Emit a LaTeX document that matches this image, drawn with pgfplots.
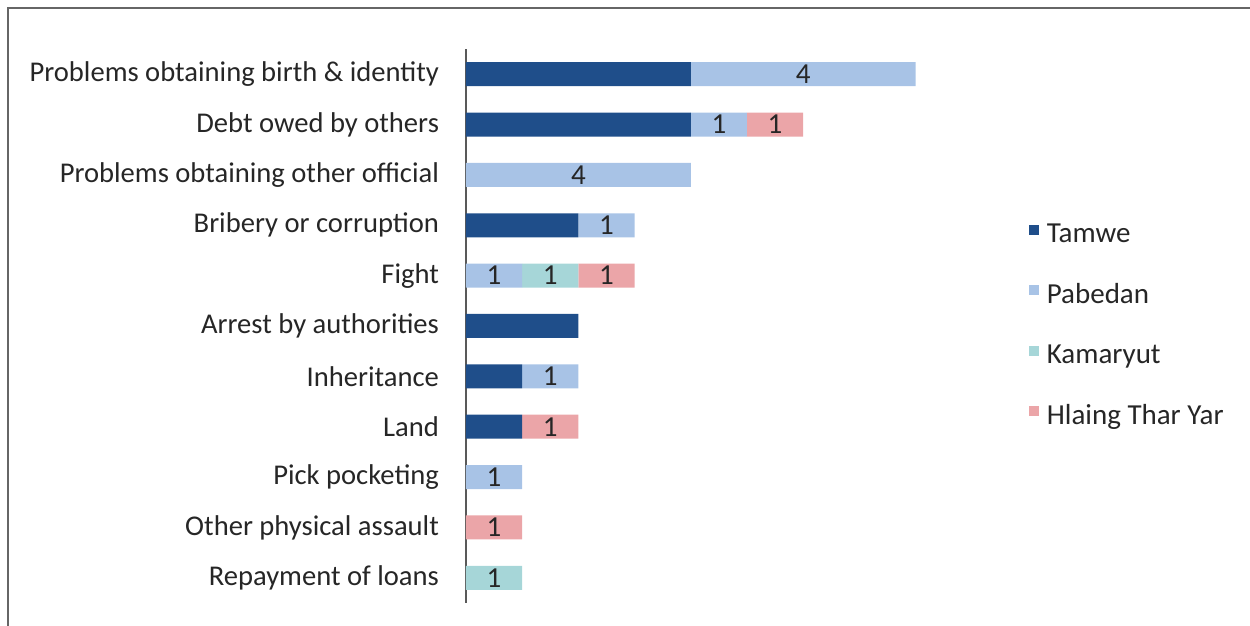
\documentclass[border=0pt]{standalone}
\usepackage{pgfplots}
\pgfplotsset{compat=1.18}
\usepackage{pgfplotstable}
\usepackage{fontspec}
\setmainfont{Carlito}
\definecolor{cTam}{HTML}{1F4E8A}
\definecolor{cPab}{HTML}{A8C3E6}
\definecolor{cKam}{HTML}{A6D6D8}
\definecolor{cHla}{HTML}{EBA5A8}
\pgfplotstableread{
idx T P K H
10 4 4 0 0
9 4 1 0 1
8 0 4 0 0
7 2 1 0 0
6 0 1 1 1
5 2 0 0 0
4 1 1 0 0
3 1 0 0 1
2 0 1 0 0
1 0 0 0 1
0 0 0 1 0
}\data
\begin{document}
\begin{tikzpicture}
\path[use as bounding box] (0,0) rectangle (625pt,313pt);
\draw[gray!80!black, line width=0.6pt] (4pt,0) -- (4pt,309pt) -- (625pt,309pt);
\begin{axis}[
  at={(233pt,11.5pt)}, anchor=south west,
  scale only axis, width=252.9pt, height=277pt,
  xbar stacked, bar width=12pt,
  xmin=0, xmax=9, ymin=-0.5, ymax=10.5,
  axis x line=none,
  axis y line*=left,
  y axis line style={gray!70!black, line width=0.6pt, -},
  ytick={0,...,10},
  yticklabels={Repayment of loans, Other physical assault, Pick pocketing, Land, Inheritance, Arrest by authorities, Fight, Bribery or corruption, Problems obtaining other official, Debt owed by others, Problems obtaining birth \& identity},
  major tick length=0pt,
  yticklabel style={font=\fontsize{14.3}{16}\selectfont, text=black!85, xshift=-10pt},
  /pgf/number format/assume math mode=true,
  point meta=explicit,
  nodes near coords={\pgfmathfloatifflags{\pgfplotspointmeta}{0}{}{\pgfmathprintnumber{\pgfplotspointmeta}}},
  every node near coord/.append style={anchor=center, font=\fontsize{14.5}{16}\selectfont, text=black!85},
  legend style={at={(1.112,0.5)}, anchor=west, draw=none, fill=none, font=\fontsize{14.5}{16}\selectfont, text=black!85, row sep=15pt, inner sep=0pt},
  legend cell align=left,
  legend image code/.code={\fill[#1] (0pt,0pt) rectangle (5pt,5pt); \path (7pt,0pt);},
]
\addplot[fill=cTam, draw=none, nodes near coords={}] table[x=T, y=idx, meta=T] {\data};
\addplot[fill=cPab, draw=none] table[x=P, y=idx, meta=P] {\data};
\addplot[fill=cKam, draw=none] table[x=K, y=idx, meta=K] {\data};
\addplot[fill=cHla, draw=none] table[x=H, y=idx, meta=H] {\data};
\legend{Tamwe, Pabedan, Kamaryut, Hlaing Thar Yar}
\end{axis}
\end{tikzpicture}
\end{document}
